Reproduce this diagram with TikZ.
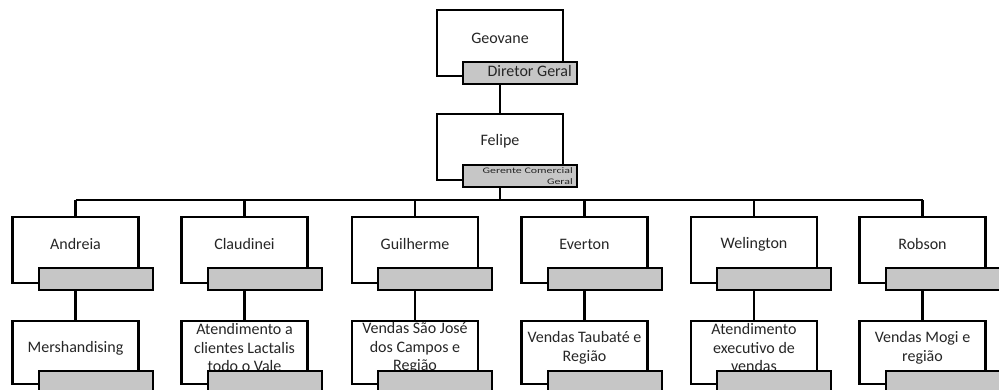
\documentclass[tikz,border=0pt]{standalone}
\usepackage{fontspec}
\setmainfont{Carlito}
\usetikzlibrary{calc}
\begin{document}
\begin{tikzpicture}[x=1pt,y=-1pt,
  box/.style={draw=black, line width=2.1pt, fill=white, minimum width=126pt, minimum height=66pt, inner sep=0pt, anchor=north},
  lowbox/.style={box, minimum height=63pt},
  tagbox/.style={draw=black, line width=2.1pt, fill=gray!45, minimum width=114pt, minimum height=22pt, inner sep=0pt, anchor=north west},
  txt/.style={font=\fontsize{16}{18.5}\selectfont, text=black!85, align=center, inner sep=0pt},
  tagtxt/.style={font=\fontsize{16}{18.5}\selectfont, text=black!85, inner sep=0pt, anchor=east},
  smalltxt/.style={font=\fontsize{10}{12}\selectfont, text=black!85, inner sep=0pt, anchor=east},
  conn/.style={draw=black, line width=2.1pt}]
\useasboundingbox (0,0) rectangle (999,390);
% top
\node[box] (g) at (500,9) {};
\node[txt] (gt) at (500,38) {Geovane};
\node[tagbox] (tg) at (462,61) {};
\node[tagtxt] (tgt) at (572,71) {Diretor Geral};
\node[box] (f) at (500,113) {};
\node[txt] (ft) at (500,141) {Felipe};
\node[tagbox] (tf) at (462,164) {};
\node[smalltxt] (tft1) at (573,170.5) {\scalebox{1.19}[0.85]{Gerente Comercial}};
\node[smalltxt] (tft2) at (573,182) {\scalebox{1.19}[0.85]{Geral}};
\draw[conn] (g.north |- tg.south) -- (f.north);
\coordinate (bus) at (500,200);
\foreach \i/\cx/\nm/\low in {
  1/75.5/Andreia/Mershandising,
  2/244.5/Claudinei/{Atendimento a\\clientes Lactalis\\todo o Vale},
  3/415/Guilherme/{Vendas São José\\dos Campos e\\Região},
  4/584.5/Everton/{Vendas Taubaté e\\Região},
  5/754/Welington/{Atendimento\\executivo de\\vendas},
  6/922.5/Robson/{Vendas Mogi e\\região}} {
  \node[box] (a\i) at (\cx,216) {};
  \node[txt] (at\i) at (\cx,244) {\nm};
  \node[tagbox] (ta\i) at ($(\cx,216)+(-38,51)$) {};
  \node[lowbox] (b\i) at (\cx,320) {};
  \node[txt] (bt\i) at (\cx,348) {\low};
  \node[tagbox] (tb\i) at ($(\cx,320)+(-38,50)$) {};
  \draw[conn] (a\i.north |- ta\i.south) -- (b\i.north);
  \draw[conn] (a\i.north) -- (a\i.north |- bus);
}
\draw[conn] (f.north |- tf.south) -- (f.north |- bus);
\draw[conn] (a1.north |- bus) -- (a6.north |- bus);
\end{tikzpicture}
\end{document}
